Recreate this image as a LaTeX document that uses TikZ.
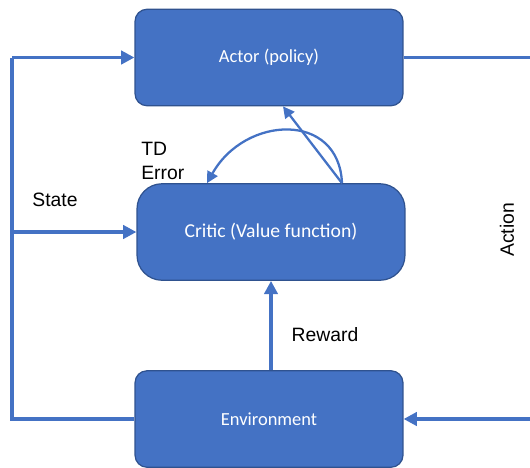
\documentclass[tikz,border=0pt]{standalone}
\usepackage{fontspec}
\setmainfont{Liberation Sans}
\newfontfamily\boxfont{Carlito}
\usetikzlibrary{arrows.meta}
\definecolor{officeblue}{HTML}{4472C4}
\definecolor{officeedge}{HTML}{2F528F}

\begin{document}
\begin{tikzpicture}[x=0.02cm, y=-0.02cm,
		block/.style={rectangle, draw=officeedge, line width=0.7pt, fill=officeblue,
			text=white, font=\boxfont\fontsize{10.5}{12}\selectfont,
			minimum width=5.36cm, minimum height=1.93cm, rounded corners=0.24cm},
		flow/.style={draw=officeblue, line width=1.9pt},
		tip/.style={-{Triangle[length=7.5pt,width=7.5pt]}},
		thin tip/.style={draw=officeblue, line width=1.3pt, -{Triangle[length=6.5pt,width=6.5pt]}},
		lbl/.style={font=\fontsize{11}{13.5}\selectfont}]
	\useasboundingbox (0,0) rectangle (530,467);

	\node[block] (Actor) at (269,57.5) {Actor (policy)};
	\node[block, rounded corners=0.5cm, font=\boxfont\fontsize{11.2}{13}\selectfont] (Critic) at (271,232) {Critic (Value function)};
	\node[block] (Env) at (269,419) {Environment};

	\coordinate (lb) at (12,419);
	\coordinate (lt) at (12,57.5);
	\coordinate (lm) at (12,232);
	\coordinate (rt) at (536,57.5);
	\coordinate (rb) at (536,419);

	\draw[flow] (Env.west) -- (lb) -- (lt);
	\draw[flow, tip] (lt) -- (Actor.west);
	\draw[flow, tip] (lm) -- (Critic.west);
	\draw[flow] (Actor.east) -- (rt) -- (rb);
	\draw[flow, tip] (rb) -- (Env.east);
	\draw[flow, tip] (Env.north -| Critic.south) -- (Critic.south);

	\coordinate (tdstart) at ([xshift=1.42cm]Critic.north);
	\coordinate (tdend) at ([xshift=-1.28cm]Critic.north);
	\draw[thin tip] (tdstart) -- ([xshift=0.28cm]Actor.south);
	\draw[thin tip] (tdstart) .. controls +(-3,-72) and +(38,-68) .. (tdend);

	\begin{scope}[nodes={lbl, inner sep=0pt}]
		\node[anchor=west, align=left] (td) at (141,161) {TD\\Error};
		\node (state) at (55,200) {State};
		\node (reward) at (325,335) {Reward};
		\node[rotate=90] (action) at (507,230) {Action};
	\end{scope}

\end{tikzpicture}
\end{document}
